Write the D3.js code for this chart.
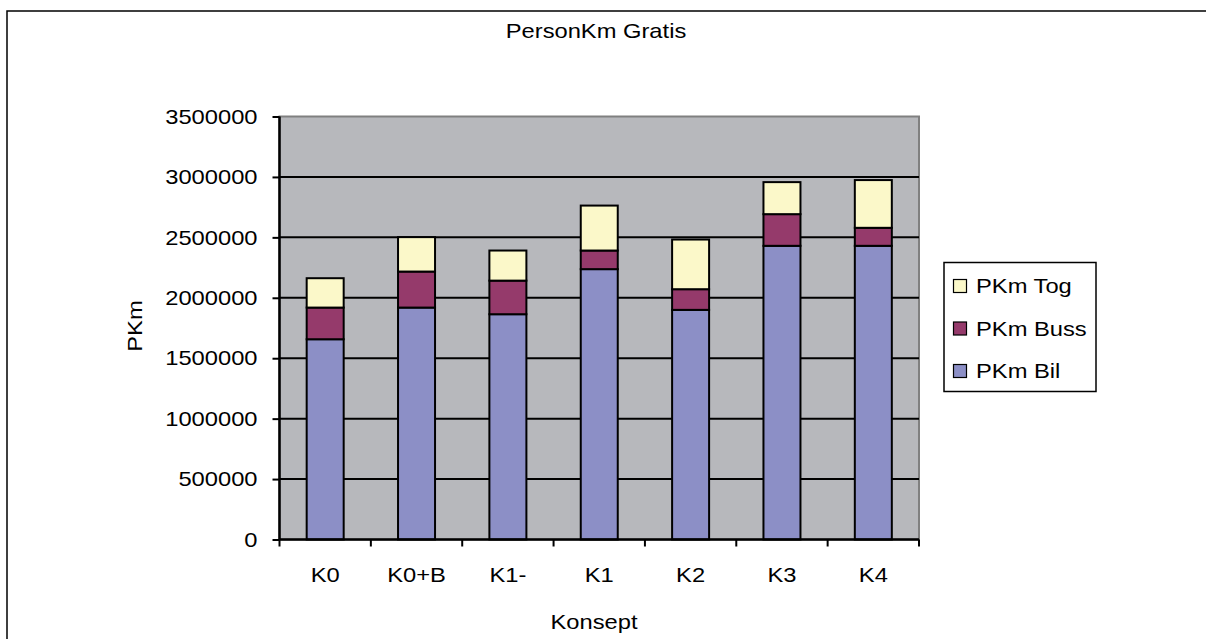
<!DOCTYPE html>
<html lang="en">
<head>
    <meta charset="UTF-8">
    <title>PersonKm Gratis</title>
    <script src="https://cdn.jsdelivr.net/npm/d3@7"></script>
    <style>
  body { margin: 0; background: #fff; }
  text { font-family: "Liberation Sans", Arial, sans-serif; font-size: 21px; fill: #000; }
  .grid line { stroke: #000; stroke-width: 2px; }
  .bar { stroke: #000; stroke-width: 2px; }
    </style>
</head>
<body>
    <svg width="1206" height="639"></svg>
    <script>

        // data
        var categories = ["K0", "K0+B", "K1-", "K1", "K2", "K3", "K4"];
        var pkmBil  = [1657000, 1919000, 1864000, 2237000, 1900000, 2430000, 2430000];
        var pkmBuss = [262000, 298000, 278000, 154000, 171000, 262000, 149000];
        var pkmTog  = [243000, 285000, 249000, 372000, 411000, 265000, 395000];
        var yTicks = [0, 500000, 1000000, 1500000, 2000000, 2500000, 3000000, 3500000];

        var series = [
          { name: "PKm Bil", values: pkmBil, color: "#8c8fc6" },
          { name: "PKm Buss", values: pkmBuss, color: "#953a6b" },
          { name: "PKm Tog", values: pkmTog, color: "#fbf8c9" }
        ];

        var sx = 1.13; // text is a little wider than plain Arial in the original

        var svg = d3.select("svg");

        // outer chart frame
        svg.append("rect")
          .attr("x", 7).attr("y", 11)
          .attr("width", 1300).attr("height", 700)
          .attr("fill", "#fff").attr("stroke", "#000").attr("stroke-width", 1.5);

        var plotL = 279.5, plotR = 919, plotT = 116.5, plotB = 539.5;

        var x = d3.scaleBand().domain(categories).range([plotL, plotR]).paddingInner(0).paddingOuter(0);
        var y = d3.scaleLinear().domain([0, 3500000]).range([plotB, plotT]);

        svg.append("rect")
          .attr("x", plotL).attr("y", plotT)
          .attr("width", plotR - plotL).attr("height", plotB - plotT)
          .attr("fill", "#b7b8bc").attr("stroke", "#808080").attr("stroke-width", 2);

        svg.append("g").attr("class", "grid")
          .selectAll("line").data(yTicks.slice(1, -1))
          .enter().append("line")
            .attr("x1", plotL).attr("x2", plotR)
            .attr("y1", function(d) { return y(d); })
            .attr("y2", function(d) { return y(d); });

        // stack the three series
        var stacked = categories.map(function(c, i) {
          var base = 0;
          return series.map(function(s) {
            var seg = { cat: c, y0: base, y1: base + s.values[i], color: s.color };
            base += s.values[i];
            return seg;
          });
        });

        var barW = 37;
        svg.append("g").selectAll("g").data(stacked)
          .enter().append("g")
          .selectAll("rect").data(function(d) { return d; })
          .enter().append("rect")
            .attr("class", "bar")
            .attr("x", function(d) { return x(d.cat) + x.bandwidth() / 2 - barW / 2; })
            .attr("width", barW)
            .attr("y", function(d) { return y(d.y1); })
            .attr("height", function(d) { return y(d.y0) - y(d.y1); })
            .attr("fill", function(d) { return d.color; });

        // y axis
        var yAxis = svg.append("g")
          .attr("transform", "translate(" + plotL + ",0)")
          .call(d3.axisLeft(y).tickValues(yTicks).tickSize(7).tickPadding(0).tickFormat(d3.format("d")));
        yAxis.select(".domain").attr("stroke", "#000").attr("stroke-width", 2.5).attr("d", "M0," + plotT + "V" + plotB);
        yAxis.selectAll(".tick line").attr("stroke", "#000").attr("stroke-width", 2);
        yAxis.selectAll(".tick text")
          .attr("font-size", null).attr("font-family", null)
          .attr("x", -22 / sx).attr("dy", "0.32em")
          .attr("transform", "scale(" + sx + ",1)");
        yAxis.attr("font-size", null).attr("font-family", null);

        // x axis, ticks on category boundaries
        var xAxis = svg.append("g")
          .attr("transform", "translate(0," + plotB + ")");
        xAxis.append("line")
          .attr("x1", plotL).attr("x2", plotR)
          .attr("stroke", "#000").attr("stroke-width", 2.5);
        xAxis.selectAll(".xt").data(categories.concat([null]))
          .enter().append("line")
            .attr("x1", function(d, i) { return plotL + i * x.bandwidth(); })
            .attr("x2", function(d, i) { return plotL + i * x.bandwidth(); })
            .attr("y1", 0).attr("y2", 7)
            .attr("stroke", "#000").attr("stroke-width", 2);
        xAxis.selectAll("text").data(categories)
          .enter().append("text")
            .attr("text-anchor", "middle")
            .attr("transform", function(d) { return "translate(" + (x(d) + x.bandwidth() / 2) + ",42) scale(" + sx + ",1)"; })
            .text(function(d) { return d; });

        // titles
        svg.append("text").attr("text-anchor", "middle")
          .attr("transform", "translate(596,38) scale(" + sx + ",1)")
          .text("PersonKm Gratis");
        svg.append("text").attr("text-anchor", "middle")
          .attr("transform", "translate(594,629) scale(" + sx + ",1)")
          .text("Konsept");
        svg.append("text").attr("text-anchor", "middle")
          .attr("transform", "translate(142,326) rotate(-90) scale(" + sx + ",1)")
          .text("PKm");

        // legend
        var legend = svg.append("g");
        legend.append("rect")
          .attr("x", 944).attr("y", 262.5).attr("width", 152).attr("height", 129)
          .attr("fill", "#fff").attr("stroke", "#000").attr("stroke-width", 1.5);
        var items = legend.selectAll(".item").data(series.slice().reverse())
          .enter().append("g")
            .attr("transform", function(d, i) { return "translate(0," + (293 + i * 42.5) + ")"; });
        items.append("rect")
          .attr("x", 953.5).attr("y", -13.5).attr("width", 13).attr("height", 13)
          .attr("fill", function(d) { return d.color; })
          .attr("stroke", "#000").attr("stroke-width", 1.2);
        items.append("text")
          .attr("transform", "translate(976,0) scale(" + sx + ",1)")
          .text(function(d) { return d.name; });

        </script>
</body>
</html>
